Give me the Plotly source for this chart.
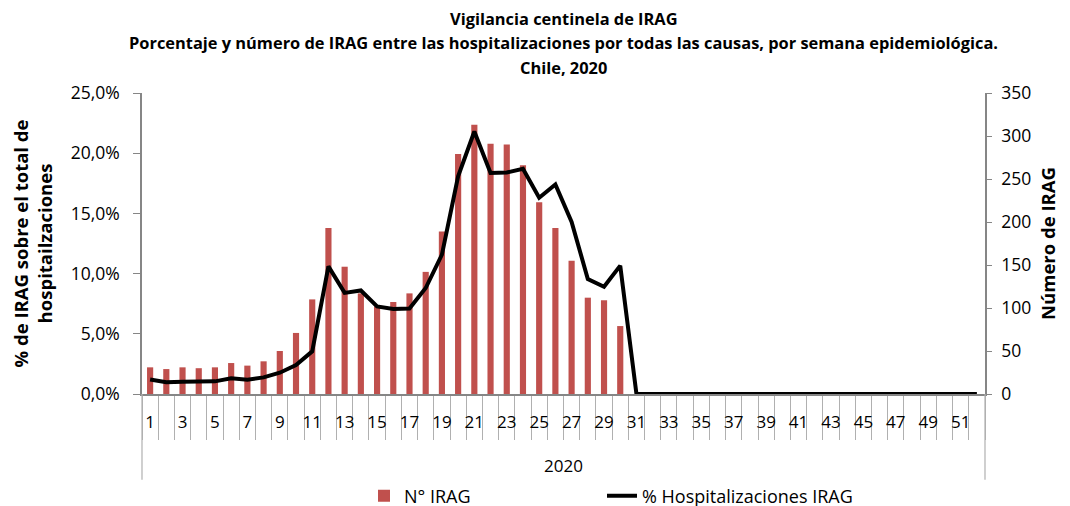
import plotly.graph_objects as go

# semanas epidemiológicas 2020
semanas = list(range(1, 53))

# N° IRAG por semana (eje derecho)
n_irag = [31, 29, 31, 30, 31, 36, 33, 38, 50, 71, 110, 193, 148, 117, 102, 107, 117, 142,
          189, 279, 313, 291, 290, 266, 223, 193, 155, 112, 109, 79] + [0] * 22

# % hospitalizaciones IRAG (eje izquierdo)
pct_irag = [1.2, 0.97, 1.02, 1.02, 1.05, 1.3, 1.19, 1.38, 1.77, 2.4, 3.54, 10.6, 8.4, 8.6,
            7.28, 7.06, 7.1, 8.8, 11.57, 18.08, 21.8, 18.35, 18.4, 18.7, 16.3, 17.4, 14.3,
            9.55, 8.9, 10.66] + [0.0] * 22

titulos = ["Vigilancia centinela de IRAG",
           "Porcentaje y número de IRAG entre las hospitalizaciones por todas las causas, por semana epidemiológica.",
           "Chile, 2020"]

etiquetas = [str(s) for s in semanas if s % 2 == 1]
fuente = "Open Sans"
gris = "#868686"

fig = go.Figure()

fig.add_trace(go.Bar(
    x=semanas, y=n_irag, name="N° IRAG",
    marker=dict(color="#C0504D", line=dict(width=0)),
    width=0.38, yaxis="y", legend="legend",
))

fig.add_trace(go.Scatter(
    x=semanas, y=pct_irag, name="% Hospitalizaciones IRAG",
    mode="lines", line=dict(color="black", width=4),
    yaxis="y2", legend="legend2",
))

# la página tiene 8px de margen en el body: se compensa aquí
fig.update_layout(
    width=1070, height=506,
    margin=dict(l=134, r=93, t=85, b=120),
    paper_bgcolor="white", plot_bgcolor="white",
    separators=",.",
    showlegend=True,
    font=dict(family=fuente, size=15, color="black"),
    xaxis=dict(
        range=[0.5, 52.5], automargin=False,
        tickmode="array", tickvals=[s for s in semanas if s % 2 == 1], ticktext=etiquetas,
        ticks="", ticklabelstandoff=12,
        showline=True, linecolor=gris, linewidth=1.5,
        showgrid=False, zeroline=False,
        minor=dict(tickmode="array", tickvals=[s + 0.5 for s in range(0, 53)],
                   ticks="outside", ticklen=44, tickcolor="#b0b0b0", tickwidth=1.2,
                   showgrid=False),
        tickfont=dict(size=17),
    ),
    yaxis=dict(
        side="right", range=[0, 350], dtick=50, automargin=False,
        showline=True, linecolor=gris, linewidth=1.5,
        ticks="outside", ticklen=5, tickcolor=gris, ticklabelstandoff=6,
        showgrid=False, zeroline=False,
        title=dict(text="<b>Número de IRAG</b>", font=dict(size=18.5), standoff=12),
        tickfont=dict(size=17.5),
    ),
    yaxis2=dict(
        side="left", overlaying="y", range=[0, 25], dtick=5, automargin=False,
        ticksuffix="%", tickformat=".1f",
        showline=True, linecolor=gris, linewidth=1.5,
        ticks="outside", ticklen=7, tickcolor=gris, ticklabelstandoff=10,
        showgrid=False, zeroline=False,
        title=dict(text="<b>% de IRAG sobre el total de<br>hospitailzaciones</b>", font=dict(size=18.5), standoff=16),
        tickfont=dict(size=17.5),
    ),
    legend=dict(
        orientation="h", xref="container", yref="container",
        x=356 / 1070, xanchor="left", y=1 - 488 / 506, yanchor="middle",
        font=dict(size=18), bgcolor="rgba(0,0,0,0)",
    ),
    legend2=dict(
        orientation="h", xref="container", yref="container",
        x=594 / 1070, xanchor="left", y=1 - 488 / 506, yanchor="middle",
        font=dict(size=18), bgcolor="rgba(0,0,0,0)",
    ),
    bargap=0.6,
)

# título en tres líneas
for i, t in enumerate(titulos):
    fig.add_annotation(text="<b>" + t + "</b>", xref="paper", yref="paper",
                       x=0.5, y=1 + (75 - 24.5 * i) / 301, xanchor="center", yanchor="middle",
                       showarrow=False, font=dict(size=16.4))

# líneas exteriores del eje de categorías y etiqueta de grupo
for xx in [0, 1]:
    fig.add_shape(type="line", xref="paper", yref="paper", x0=xx, x1=xx, y0=0, y1=-0.285,
                  line=dict(color="#b0b0b0", width=1.2))
fig.add_annotation(text="2020", xref="paper", yref="paper", x=0.5, y=-71 / 301,
                   yanchor="middle", showarrow=False, font=dict(size=17))

fig.write_html("out.html")
